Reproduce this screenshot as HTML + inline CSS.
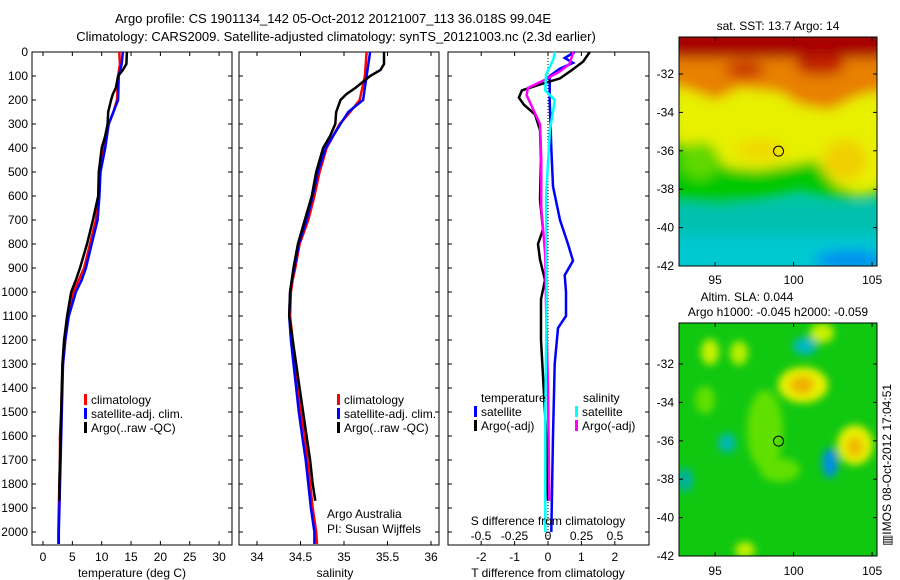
<!DOCTYPE html>
<html><head><meta charset="utf-8">
<style>
body{margin:0;background:#fff;}
svg{display:block;font-family:"Liberation Sans",sans-serif;}
</style></head>
<body>
<svg id="fig" width="900" height="580" viewBox="0 0 900 580" xmlns="http://www.w3.org/2000/svg">
<defs>
<filter id="bl" x="-20%" y="-20%" width="140%" height="140%"><feGaussianBlur stdDeviation="6"/></filter>
<filter id="bl2" x="-20%" y="-20%" width="140%" height="140%"><feGaussianBlur stdDeviation="4"/></filter>
<clipPath id="c1"><rect x="679" y="37" width="198" height="229"/></clipPath>
<clipPath id="c2"><rect x="679" y="323" width="198" height="233"/></clipPath>
</defs>
<text x="333" y="23" font-size="13" text-anchor="middle">Argo profile: CS 1901134_142 05-Oct-2012 20121007_113 36.018S 99.04E</text>
<text x="336" y="41" font-size="13" text-anchor="middle">Climatology: CARS2009. Satellite-adjusted climatology: synTS_20121003.nc (2.3d earlier)</text>

<g id="map1" clip-path="url(#c1)">
<rect x="679" y="37" width="198" height="229" fill="#00c8a0"/>
<g filter="url(#bl)">
<rect x="670" y="205" width="220" height="75" fill="#00c0b0"/>
<rect x="670" y="235" width="220" height="45" fill="#00c8d0"/>
<ellipse cx="850" cy="260" rx="35" ry="10" fill="#0090f0"/>
<path d="M670 120 L890 120 L890 195 L840 200 L800 190 L760 200 L720 205 L670 200 Z" fill="#00c800"/>
<path d="M670 60 L890 60 L890 185 L860 195 L835 185 L815 160 L790 165 L760 170 L730 168 L700 150 L670 140 Z" fill="#e8f000"/>
<ellipse cx="700" cy="160" rx="20" ry="18" fill="#60d800"/>
<ellipse cx="845" cy="160" rx="22" ry="20" fill="#f0d000"/>
<ellipse cx="760" cy="150" rx="25" ry="10" fill="#f0d800"/>
<path d="M670 30 L890 30 L890 90 L860 95 L830 110 L800 105 L780 92 L740 88 L715 100 L690 90 L670 85 Z" fill="#e88000"/>
<rect x="670" y="28" width="220" height="30" fill="#a80000"/>
<ellipse cx="820" cy="65" rx="25" ry="10" fill="#c02000"/>
<ellipse cx="745" cy="70" rx="20" ry="8" fill="#c83000"/>
</g>
</g>
<g id="map2" clip-path="url(#c2)">
<rect x="679" y="323" width="198" height="233" fill="#10c810"/>
<g filter="url(#bl2)">
<ellipse cx="710" cy="352" rx="9" ry="13" fill="#c8f000"/>
<ellipse cx="739" cy="353" rx="9" ry="12" fill="#b8f000"/>
<ellipse cx="822" cy="333" rx="12" ry="10" fill="#c8f000"/>
<ellipse cx="803" cy="385" rx="25" ry="18" fill="#e8f000"/>
<ellipse cx="802" cy="385" rx="12" ry="9" fill="#f0b000"/>
<ellipse cx="855" cy="445" rx="18" ry="20" fill="#e8f000"/>
<ellipse cx="855" cy="447" rx="8" ry="10" fill="#f0b800"/>
<ellipse cx="805" cy="346" rx="12" ry="9" fill="#00b8c0"/>
<ellipse cx="727" cy="443" rx="9" ry="10" fill="#00b8b0"/>
<ellipse cx="830" cy="463" rx="8" ry="15" fill="#0090e0"/>
<ellipse cx="765" cy="430" rx="18" ry="40" fill="#60e000"/>
<ellipse cx="780" cy="470" rx="20" ry="12" fill="#60e000"/>
<ellipse cx="705" cy="400" rx="10" ry="14" fill="#60e000"/>
<ellipse cx="685" cy="480" rx="8" ry="12" fill="#00b0a0"/>
<ellipse cx="745" cy="550" rx="10" ry="8" fill="#c8f000"/>
</g>
</g>
<g id="plots"></g>
<text x="778" y="30" font-size="12" text-anchor="middle">sat. SST: 13.7 Argo: 14</text>
<text x="747" y="301" font-size="12" text-anchor="middle">Altim. SLA: 0.044</text>
<text x="778" y="316" font-size="12" text-anchor="middle">Argo h1000: -0.045 h2000: -0.059</text>
<text transform="translate(891,465) rotate(-90)" font-size="12" text-anchor="middle">▥IMOS 08-Oct-2012 17:04:51</text>
<text x="327" y="518" font-size="12">Argo Australia</text>
<text x="327" y="533" font-size="12">PI: Susan Wijffels</text>
</svg>
<script>
// ---- data ----
const presClim = [0,50,100,200,250,300,400,500,600,700,800,900,950,1000,1100,1200,1300,1400,1500,1600,1700,1800,1900,2000,2050];
const tempClim = [13.0,13.1,12.8,12.6,12.0,11.2,10.4,9.7,9.5,9.0,8.0,7.0,6.1,5.2,4.3,3.8,3.4,3.2,3.1,2.9,2.9,2.8,2.7,2.6,2.6];
const tempSat  = [13.6,13.4,12.9,12.8,12.0,11.2,10.6,9.8,9.6,9.3,8.3,7.3,6.6,5.6,4.4,3.8,3.4,3.3,3.2,3.1,3.0,2.9,2.8,2.7,2.7];
const salClim  = [35.26,35.25,35.24,35.18,35.07,34.95,34.80,34.72,34.66,34.59,34.49,34.44,34.41,34.39,34.38,34.41,34.44,34.47,34.50,34.55,34.58,34.61,34.64,34.68,34.69];
const salSat   = [35.30,35.28,35.26,35.22,35.05,34.96,34.79,34.70,34.64,34.57,34.48,34.43,34.40,34.38,34.37,34.39,34.42,34.45,34.48,34.52,34.56,34.59,34.62,34.66,34.66];
const presArgo = [0,50,75,100,150,175,200,250,300,350,400,500,600,700,800,900,950,1000,1100,1200,1300,1400,1500,1600,1700,1800,1870];
const tempArgo = [14.3,14.2,13.6,12.8,12.4,11.9,11.6,11.1,11.0,10.6,10.0,9.5,9.4,8.5,7.5,6.3,5.6,4.8,4.1,3.6,3.3,3.2,3.1,3.0,2.9,2.8,2.8];
const salArgo  = [35.46,35.46,35.42,35.30,35.13,35.03,34.96,34.91,34.90,34.84,34.76,34.68,34.63,34.55,34.47,34.42,34.40,34.38,34.37,34.41,34.45,34.49,34.53,34.57,34.61,34.64,34.67];
const presDT = [0,25,45,70,100,200,400,560,700,800,870,930,1000,1100,1150,1300,1600,2000];
const dTsat  = [0.8,0.5,0.75,0.35,0.05,0.05,0.1,0.15,0.36,0.6,0.75,0.5,0.54,0.54,0.3,0.2,0.15,0.1];
const presDA = [0,40,75,110,135,160,190,220,260,325,450,615,740,800,865,950,1030,1200,1350,1600,1870];
const dTargo = [1.25,1.05,0.72,0.36,-0.24,-0.78,-0.87,-0.72,-0.39,-0.24,-0.21,-0.24,-0.15,-0.3,-0.24,-0.09,-0.21,-0.21,-0.15,-0.05,0];
const presDS = [0,50,80,115,150,180,240,300,450,650,850,1050,1400,1870];
const dSargo = [0.19,0.16,0.09,-0.02,-0.15,-0.16,-0.11,-0.06,-0.05,-0.05,-0.02,-0.015,0,0.01];
const presDSs = [0,30,95,160,200,240,320,600,1000,1500,2000];
const dSsat   = [0.05,0.04,-0.015,-0.02,0.05,0.04,0.015,-0.015,-0.01,-0.02,-0.02];
const presTicks = [0,100,200,300,400,500,600,700,800,900,1000,1100,1200,1300,1400,1500,1600,1700,1800,1900,2000];
const tTicks = [0,5,10,15,20,25,30];
const sTicks = [34,34.5,35,35.5,36];
const dtTicks = [-2,-1,0,1,2];
const dsTicks = [-0.5,-0.25,0,0.25,0.5];
const dsTickLabels = ['-0.5','-0.25','0','0.25','0.5'];
const lonTicks = [95,100,105];
const latTicks = [-32,-34,-36,-38,-40,-42];
const argoPos = [99.04,-36.018];

const NS='http://www.w3.org/2000/svg';
const root=document.getElementById('plots');
function mk(tag,attrs,parent){const e=document.createElementNS(NS,tag);for(const k in attrs)e.setAttribute(k,attrs[k]);(parent||root).appendChild(e);return e;}
const yP = p => 52 + p*0.24;
const TOP=52, BOT=545;
const xT = t => 43 + t*5.87;
const xS = s => 257 + (s-34)*87;
const xDT = d => 548 + d*33.4;
const xDS = d => 548 + d*134;

function frame(x0,x1,name,ticksX,fx,labels,showY){
  const g=mk('g',{});
  
  
  const r=mk('rect',{x:x0,y:TOP,width:x1-x0,height:BOT-TOP,fill:'none',stroke:'#000','stroke-width':1},g);
  
  
  presTicks.forEach(p=>{
    const y=yP(p);
    mk('line',{x1:x0,x2:x0+4,y1:y,y2:y,stroke:'#000'},g);
    mk('line',{x1:x1-4,x2:x1,y1:y,y2:y,stroke:'#000'},g);
    if(showY){const t=mk('text',{x:x0-4,y:y+4,'font-size':12,'text-anchor':'end'},g);t.textContent=p;
      
      }
  });
  ticksX.forEach((v,i)=>{
    const x=fx(v);
    mk('line',{x1:x,x2:x,y1:TOP,y2:TOP+4,stroke:'#000'},g);
    mk('line',{x1:x,x2:x,y1:BOT-4,y2:BOT,stroke:'#000'},g);
    if(labels){const t=mk('text',{x:x,y:561,'font-size':12,'text-anchor':'middle'},g);t.textContent=labels[i];
      
      }
  });
  return g;
}
function line(ps,vs,fx,color,name,w){
  const d=ps.map((p,i)=>(i?'L':'M')+fx(vs[i]).toFixed(1)+' '+yP(p).toFixed(1)).join(' ');
  const e=mk('path',{d:d,fill:'none',stroke:color,'stroke-width':w||2.5});
  
  
}
function txt(x,y,s,name,anchor){const t=mk('text',{x:x,y:y,'font-size':12,'text-anchor':anchor||'start'});t.textContent=s;
  
  }
function legItem(x,y,color,s,name){
  const r=mk('rect',{x:x,y:y-10,width:3,height:11,fill:color});
  
  
  txt(x+7,y,s,name);
}

frame(32,232,'temperature-panel',tTicks,xT,tTicks.map(String),true);
line(presClim,tempClim,xT,'#ff0000','temp-climatology-line');
line(presClim,tempSat,xT,'#0000ff','temp-satellite-line');
line(presArgo,tempArgo,xT,'#000','temp-argo-line');
txt(132,577,'temperature (deg C)','temperature-axis-title','middle');
legItem(84,404,'#ff0000','climatology','legend-climatology');
legItem(84,418,'#0000ff','satellite-adj. clim.','legend-satellite');
legItem(84,432,'#000','Argo(..raw -QC)','legend-argo');

frame(239,439,'salinity-panel',sTicks,xS,['34','34.5','35','35.5','36'],false);
line(presClim,salClim,xS,'#ff0000','sal-climatology-line');
line(presClim,salSat,xS,'#0000ff','sal-satellite-line');
line(presArgo,salArgo,xS,'#000','sal-argo-line');
txt(335,577,'salinity','salinity-axis-title','middle');
legItem(337,404,'#ff0000','climatology','legend2-climatology');
legItem(337,418,'#0000ff','satellite-adj. clim.','legend2-satellite');
legItem(337,432,'#000','Argo(..raw -QC)','legend2-argo');

frame(448,649,'difference-panel',dtTicks,xDT,dtTicks.map(String),false);
const z=mk('line',{x1:548,x2:548,y1:TOP,y2:BOT,stroke:'#000','stroke-dasharray':'1 2'});


line(presDT,dTsat,xDT,'#0000ff','dT-satellite-line');
line(presDA,dTargo,xDT,'#000','dT-argo-line');
line(presDS,dSargo,xDS,'#ff00ff','dS-argo-line');
line(presDSs,dSsat,xDS,'#00ffff','dS-satellite-line');
txt(548,577,'T difference from climatology','t-diff-axis-title','middle');
txt(548,525,'S difference from climatology','s-diff-axis-title','middle');
dsTicks.forEach((v,i)=>txt(xDS(v),540,dsTickLabels[i],'s-diff-tick-label','middle'));
txt(481,402,'temperature','legend3-temp-header');
legItem(474,416,'#0000ff','satellite','legend3-temp-satellite');
legItem(474,430,'#000','Argo(-adj)','legend3-temp-argo');
txt(583,402,'salinity','legend3-sal-header');
legItem(575,416,'#00ffff','satellite','legend3-sal-satellite');
legItem(575,430,'#ff00ff','Argo(-adj)','legend3-sal-argo');

function mapAxes(y0,y1,name,labelY){
  const lx=v=>679+(v-92.7)*15.7;
  const ly=v=>(y1)-(v+42)*19.2;
  const g=mk('g',{});
  
  
  mk('rect',{x:679,y:y0,width:198,height:y1-y0,fill:'none',stroke:'#000'},g);
  lonTicks.forEach(v=>{const x=lx(v);
    mk('line',{x1:x,x2:x,y1:y0,y2:y0+4,stroke:'#000'},g);
    mk('line',{x1:x,x2:x,y1:y1-4,y2:y1,stroke:'#000'},g);
    const t=mk('text',{x:x,y:labelY,'font-size':12,'text-anchor':'middle'},g);t.textContent=v;
    
    });
  latTicks.forEach(v=>{const y=ly(v); if(y<y0-1)return;
    mk('line',{x1:679,x2:683,y1:y,y2:y,stroke:'#000'},g);
    mk('line',{x1:873,x2:877,y1:y,y2:y,stroke:'#000'},g);
    const t=mk('text',{x:674,y:y+4,'font-size':12,'text-anchor':'end'},g);t.textContent=v;
    
    });
  const c=mk('circle',{cx:lx(argoPos[0]),cy:ly(argoPos[1]),r:5,fill:'none',stroke:'#000'},g);
  
  
}
mapAxes(37,266,'sst-map-axes',284);
mapAxes(323,556,'sla-map-axes',575);
</script>
</body></html>
